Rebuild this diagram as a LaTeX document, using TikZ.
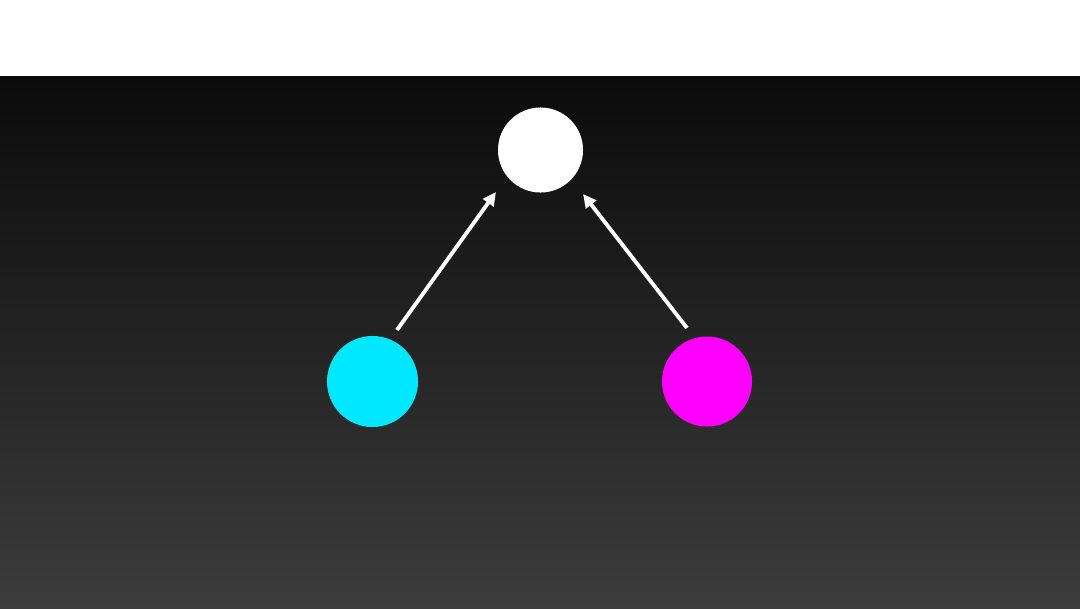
\documentclass[tikz,border=0pt]{standalone}
\usetikzlibrary{arrows.meta,calc}
\definecolor{bgtop}{HTML}{0B0B0B}
\definecolor{bgbot}{HTML}{3C3C3C}
\definecolor{dotcyan}{HTML}{00E8FF}
\definecolor{dotmag}{HTML}{FF00FF}
\begin{document}
\begin{tikzpicture}[x=0.01cm,y=0.01cm,
  dot/.style={circle,inner sep=0pt,minimum size=#1},
  link/.style={draw=white,line width=1.1pt,-{Triangle[length=3.8pt,width=3.6pt]}}]
\useasboundingbox (0,0) rectangle (1080,608);
\fill[white] (0,532) rectangle (1080,608);
\shade[top color=bgtop,bottom color=bgbot] (0,0) rectangle (1080,532);
\node[dot=0.85cm,fill=white] (w) at (540.5,458) {};
\node[dot=0.91cm,fill=dotcyan] (c) at (372.5,226.5) {};
\node[dot=0.90cm,fill=dotmag] (m) at (707,226.5) {};
\coordinate (cs) at ($(c)+(64.6:57)$);
\coordinate (ce) at ($(w)+(-136.7:61.2)$);
\coordinate (ms) at ($(m)+(110.5:57.1)$);
\coordinate (me) at ($(w)+(-46:61.2)$);
\draw[link] (cs) -- (ce);
\draw[link] (ms) -- (me);
\end{tikzpicture}
\end{document}
